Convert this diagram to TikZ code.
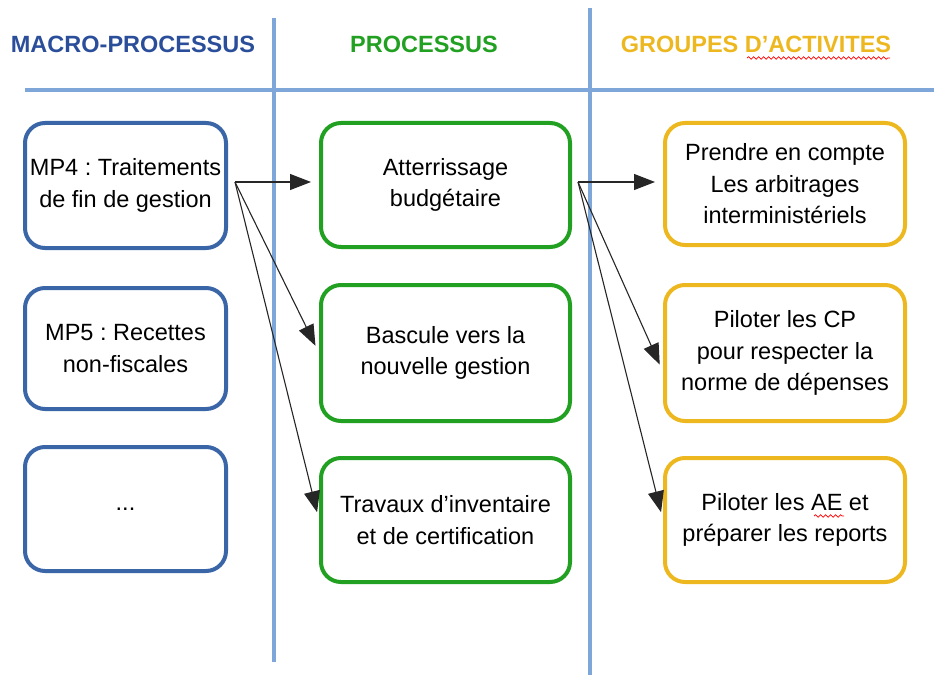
\documentclass[tikz,border=0pt]{standalone}
\usepackage{fontspec}
\setmainfont{Liberation Sans}
\usepackage{xcolor}
\usepackage{tikz}
\usetikzlibrary{arrows.meta,decorations.pathmorphing}
\definecolor{mpblue}{HTML}{3A66A8}
\definecolor{headblue}{HTML}{2B4E9A}
\definecolor{pgreen}{HTML}{22A022}
\definecolor{gyellow}{HTML}{EDB71F}
\definecolor{sepblue}{HTML}{7EA6D8}
\frenchspacing

\begin{document}
\begin{tikzpicture}[x=1pt, y=-1pt,
  box/.style={rectangle, rounded corners=20pt, line width=4pt, align=center,
    font=\fontsize{23.5}{31.5}\selectfont, inner sep=0pt},
  mpbox/.style={box, draw=mpblue, minimum width=201pt},
  pbox/.style={box, draw=pgreen, minimum width=249pt},
  gbox/.style={box, draw=gyellow, minimum width=240pt},
  head/.style={font=\fontsize{23.5}{28}\selectfont\bfseries},
  sep/.style={draw=sepblue, line width=4pt},
  link/.style={-{Triangle[length=21pt,width=16pt]}, draw=black!85, line width=1.1pt, shorten >=8pt},
  squiggle/.style={red, line width=0.7pt, decorate,
    decoration={snake, amplitude=1.3pt, segment length=5pt}}]
 \useasboundingbox (0,0) rectangle (934,698);
 \path[sep] (25,90) -- (934,90);
 \path[sep] (274,18) -- (274,662);
 \path[sep] (590,8) -- (590,675);
 \node [head, text=headblue] (hmp) at (133,44) {MACRO-PROCESSUS};
 \node [head, text=pgreen]   (hp)  at (424,44) {PROCESSUS};
 \node [head, text=gyellow]  (hg)  at (756,44) {GROUPES D’ACTIVITES};
 \node [mpbox, minimum height=125pt] (mp4)    at (125.5,185.5) {MP4 : Traitements\\de fin de gestion};
 \node [mpbox, minimum height=121pt] (mp5)    at (125.5,348.5) {MP5 : Recettes\\non-fiscales};
 \node [mpbox, minimum height=124pt] (mpdots) at (125.5,509)   {...};
 \node [pbox, minimum height=124pt] (p1) at (445.5,185) {Atterrissage\\budgétaire};
 \node [pbox, minimum height=136pt] (p2) at (445.5,353) {Bascule vers la\\nouvelle gestion};
 \node [pbox, minimum height=124pt] (p3) at (445.5,520) {Travaux d’inventaire\\et de certification};
 \node [gbox, minimum height=122pt] (g1) at (785,184) {Prendre en compte\\Les arbitrages\\interministériels};
 \node [gbox, minimum height=136pt] (g2) at (785,353) {Piloter les CP\\pour respecter la\\norme de dépenses};
 \node [gbox, minimum height=124pt] (g3) at (785,520) {Piloter les AE et\\préparer les reports};
 \coordinate (src1) at (235,182);
 \coordinate (src2) at (578,182);
  \draw [link] (src1) -- (p1.west |- src1);
  \draw [link] (src1) -- (p2.west);
  \draw [link] (src1) -- (p3.west);
  \draw [link] (src2) -- (g1.west |- src2);
  \draw [link] (src2) -- ([yshift=-19pt]g2.west);
  \draw [link] (src2) -- (g3.west);
  \draw [squiggle] (747,58) -- (890,58);
  \draw [squiggle] (814,516) -- (844,516);
\end{tikzpicture}
\end{document}
